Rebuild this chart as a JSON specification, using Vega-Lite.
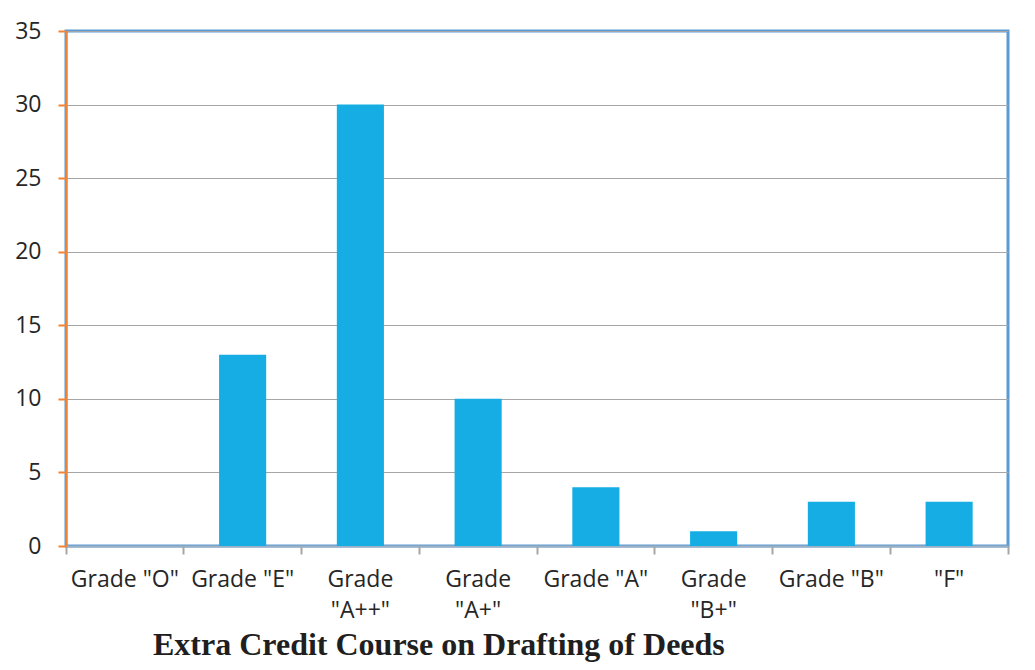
{
  "$schema": "https://vega.github.io/schema/vega-lite/v6.json",
  "width": 942,
  "height": 515,
  "autosize": {"type": "none"},
  "padding": {"left": 66, "top": 31, "right": 27, "bottom": 124},
  "background": "white",
  "config": {
    "view": {"stroke": "#5B9BD5", "strokeWidth": 3},
    "font": "Open Sans"
  },
  "title": {
    "text": "Extra Credit Course on Drafting of Deeds",
    "orient": "bottom",
    "anchor": "start",
    "frame": "group",
    "dx": 87,
    "offset": 8,
    "font": "Liberation Serif",
    "fontWeight": "bold",
    "fontSize": 32,
    "color": "#1f1f1f"
  },
  "data": {
    "values": [
      {"grade": "Grade \"O\"", "count": 0},
      {"grade": "Grade \"E\"", "count": 13},
      {"grade": "Grade \"A++\"", "count": 30},
      {"grade": "Grade \"A+\"", "count": 10},
      {"grade": "Grade \"A\"", "count": 4},
      {"grade": "Grade \"B+\"", "count": 1},
      {"grade": "Grade \"B\"", "count": 3},
      {"grade": "\"F\"", "count": 3}
    ]
  },
  "resolve": {"axis": {"x": "independent"}},
  "layer": [
    {
      "mark": {"type": "bar", "color": "#15ADE3", "width": {"band": 0.4}},
      "encoding": {
        "x": {
          "field": "grade",
          "type": "nominal",
          "sort": null,
          "scale": {"paddingInner": 0, "paddingOuter": 0},
          "axis": {
            "title": null,
            "orient": "bottom",
            "ticks": false,
            "domainColor": "#9DAFC2",
            "domainWidth": 2,
            "labelAngle": 0,
            "labelFont": "Open Sans",
            "labelFontSize": 23,
            "labelColor": "#262626",
            "labelPadding": 22,
            "labelLineHeight": 31,
            "labelLimit": 200,
            "labelExpr": "indexof(datum.label, '+') >= 0 ? split(datum.label, ' ') : datum.label"
          }
        },
        "y": {
          "field": "count",
          "type": "quantitative",
          "scale": {"domain": [0, 35]},
          "axis": {
            "title": null,
            "values": [0, 5, 10, 15, 20, 25, 30, 35],
            "domainColor": "#F58232",
            "domainWidth": 2,
            "tickColor": "#F58232",
            "tickWidth": 2,
            "tickSize": 8,
            "gridColor": "#A6A6A6",
            "gridWidth": 1,
            "labelFont": "Open Sans",
            "labelFontSize": 23,
            "labelColor": "#262626",
            "labelPadding": 17
          }
        }
      }
    },
    {
      "mark": {"type": "rule", "strokeOpacity": 0},
      "encoding": {
        "x": {
          "field": "grade",
          "type": "nominal",
          "sort": null,
          "axis": {
            "title": null,
            "orient": "bottom",
            "labels": false,
            "domain": false,
            "grid": false,
            "bandPosition": 0,
            "tickColor": "#A6A6A6",
            "tickWidth": 2,
            "tickSize": 8
          }
        }
      }
    },
    {
      "mark": {"type": "rule", "strokeOpacity": 0},
      "encoding": {
        "x": {
          "field": "grade",
          "type": "nominal",
          "sort": null,
          "axis": {
            "title": null,
            "orient": "bottom",
            "labels": false,
            "domain": false,
            "grid": false,
            "values": ["\"F\""],
            "bandPosition": 1,
            "tickColor": "#A6A6A6",
            "tickWidth": 2,
            "tickSize": 8
          }
        }
      }
    }
  ]
}
